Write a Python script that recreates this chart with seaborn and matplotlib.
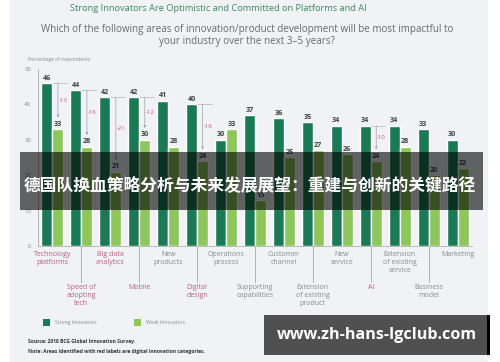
import matplotlib.pyplot as plt
import matplotlib.patches as mpatches
import matplotlib.transforms as mtransforms
import seaborn as sns
import pandas as pd

# data
categories = ["Technology\nplatforms", "Speed of\nadopting\ntech", "Big data\nanalytics", "Mobile",
              "New\nproducts", "Digital\ndesign", "Operations\nprocess", "Supporting\ncapabilities",
              "Customer\nchannel", "Extension\nof existing\nproduct", "New\nservice", "AI",
              "Extension\nof existing\nservice", "Business\nmodel", "Marketing"]
strong = [46, 44, 42, 42, 41, 40, 30, 37, 36, 35, 34, 34, 34, 33, 30]
weak = [33, 28, 21, 30, 28, 24, 33, 13, 25, 27, 26, 24, 28, 20, 22]
digital = [True, True, True, True, False, True, False, False, False, False, False, True, False, False, False]
y_ticks = [0, 10, 20, 30, 40, 50]
series = ["Strong Innovators", "Weak Innovators"]

df = pd.DataFrame({
    "category": categories * 2,
    "value": strong + weak,
    "group": [series[0]] * len(strong) + [series[1]] * len(weak),
})

sns.set_style("white")
plt.rcParams["font.family"] = ["Open Sans", "DejaVu Sans"]

BG = "#f1f2f5"
DARK = "#1b7a56"
LIGHT = "#8dc75c"
RED = "#b8607e"
GREY = "#8a8a8a"

fig = plt.figure(figsize=(5, 3.62), dpi=100)
fig.patch.set_facecolor("white")
fig.patches.append(mpatches.Rectangle((0.02, 0), 0.956, 1, transform=fig.transFigure,
                                      facecolor=BG, edgecolor="none", zorder=-10))

ax = fig.add_axes([0.076, 0.32, 0.868, 0.49])
ax.set_facecolor("none")
sns.barplot(data=df, x="category", y="value", hue="group", palette=[DARK, LIGHT],
            width=0.76, ax=ax, legend=False, saturation=1)

for cont in ax.containers:
    ax.bar_label(cont, fontsize=5.2, fontweight="bold", color="#444444", padding=1)

ax.set_ylim(0, 50)
ax.set_xlim(-0.5, len(categories) - 0.5)
ax.set_yticks(y_ticks)
ax.set_yticklabels([str(t) for t in y_ticks], fontsize=4.3, color=GREY)
ax.tick_params(axis="y", length=0, pad=5)
ax.set_xticks([])
ax.set_xlabel("")
ax.set_ylabel("")
for s in ["top", "right"]:
    ax.spines[s].set_visible(False)
ax.spines["left"].set_color("#9bb5a5")
ax.spines["left"].set_linewidth(0.6)
ax.spines["bottom"].set_color("#b0b0b0")
ax.spines["bottom"].set_linewidth(0.6)

# gap annotations for digital categories
for i, (s, w, d) in enumerate(zip(strong, weak, digital)):
    if not d:
        continue
    xs = i + 0.19
    ax.plot([i, i + 0.5], [s, s], color="#b5b5b5", lw=0.5)
    ax.annotate("", xy=(xs, w + 3.3), xytext=(xs, s),
                arrowprops=dict(arrowstyle="-|>", color="#a0a0a0", lw=0.5,
                                mutation_scale=3, shrinkA=0, shrinkB=0))
    ax.text(xs + 0.03, (s + w + 3.3) / 2, f"-{s - w}", fontsize=4.3, color="#d0508a",
            ha="left", va="center")

# alternating category labels
trans = mtransforms.blended_transform_factory(ax.transData, ax.transAxes)
for i, (lab, d) in enumerate(zip(categories, digital)):
    col = RED if d else GREY
    if i % 2 == 0:
        ax.text(i, -0.03, lab, transform=trans, ha="center", va="top", fontsize=5,
                color=col, linespacing=1.15)
    else:
        ax.plot([i, i], [0, -0.2], transform=trans, color="#9a9a9a", lw=0.5, clip_on=False)
        ax.text(i, -0.215, lab, transform=trans, ha="center", va="top", fontsize=5,
                color=col, linespacing=1.15)

# titles
fig.text(0.436, 0.99, "Strong Innovators Are Optimistic and Committed on Platforms and AI",
         ha="center", va="top", fontsize=6.7, color="#3b8a5e")
fig.text(0.494, 0.935, "Which of the following areas of innovation/product development will be most impactful to\n"
         "your industry over the next 3\u20135 years?", ha="center", va="top", fontsize=7.1,
         color="#6a6a6a", linespacing=1.15)
fig.text(0.056, 0.835, "Percentage of respondents", fontsize=3.6, color=GREY, va="center")

# legend
for x0, c, name in [(0.086, DARK, series[0]), (0.268, LIGHT, series[1])]:
    fig.patches.append(mpatches.Rectangle((x0, 0.100), 0.014, 0.019, transform=fig.transFigure,
                                          facecolor=c, edgecolor="none"))
    fig.text(x0 + 0.024, 0.110, name, fontsize=3.6, color=GREY, va="center")

fig.text(0.056, 0.058, "Source: 2018 BCG Global Innovation Survey.", fontsize=3.6,
         color="#333333", va="center", fontweight="bold")
fig.text(0.056, 0.030, "Note: Areas identified with red labels are digital innovation categories.",
         fontsize=3.6, color="#333333", va="center", fontweight="bold")

# overlay band with headline
fig.patches.append(mpatches.Rectangle((0.04, 0.42), 0.925, 0.16, transform=fig.transFigure,
                                      facecolor="black", alpha=0.6, edgecolor="none", zorder=5))
fig.text(0.5, 0.49, "德国队换血策略分析与未来发展展望：重建与创新的关键路径", ha="center", va="center",
         fontsize=12.1, color="white", fontweight="bold", zorder=6,
         family=["Noto Sans CJK SC", "DejaVu Sans"])

# watermark box
fig.patches.append(mpatches.Rectangle((0.528, 0.02), 0.45, 0.11, transform=fig.transFigure,
                                      facecolor="#505050", edgecolor="none", zorder=5))
fig.patches.append(mpatches.Rectangle((0.974, 0.02), 0.006, 0.11, transform=fig.transFigure,
                                      facecolor="black", edgecolor="none", zorder=6))
fig.text(0.753, 0.075, "www.zh-hans-lgclub.com", ha="center", va="center", fontsize=11.6,
         color="white", fontweight="bold", zorder=6)

fig.savefig("out.png", dpi=100, facecolor=fig.get_facecolor())
